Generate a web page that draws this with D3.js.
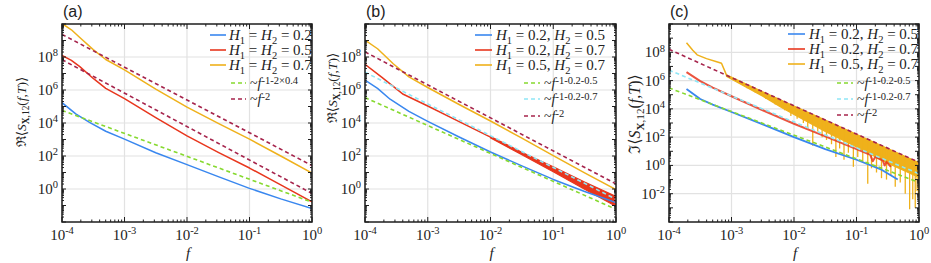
<!DOCTYPE html>
<html>
<head>
<meta charset="utf-8">
<script src="https://cdn.jsdelivr.net/npm/d3@7"></script>
<style>
body { margin: 0; background: #fff; }
svg { display: block; }
</style>
</head>
<body>
<svg width="931" height="263"></svg>
<script>
// all pairs are [log10 f, log10 value]

// (a) real part, H1 = H2
var aH02 = [[-4,5.23],[-3.78,4.55],[-3.56,4.04],[-3.3,3.5],[-3,3.02],[-2.5,2.2],[-2,1.48],[-1.5,0.75],[-1,0.04],[-0.5,-0.6],[0,-1.19]];
var aH05 = [[-4,8.1],[-3.85,7.8],[-3.72,7.43],[-3.5,6.7],[-3.3,6.1],[-3,5.48],[-2.5,4.33],[-2,3.22],[-1.5,2.22],[-1,1.27],[-0.5,0.25],[0,-0.78]];
var aH07 = [[-4,10.03],[-3.85,9.65],[-3.72,9.2],[-3.5,8.45],[-3.3,7.85],[-3,7.22],[-2.5,6.05],[-2,4.96],[-1.5,3.98],[-1,3.02],[-0.5,2.0],[0,0.96]];
var aFitH04 = [[-4,4.76],[0,-0.8]];
var aFit2hi = [[-4,9.37],[0,1.42]];
var aFit2lo = [[-4,7.84],[0,-0.27]];

// (b) real part, H1 != H2
var bH0205 = [[-4,6.6],[-3.8,6.1],[-3.6,5.44],[-3.3,4.7],[-3,4.1],[-2.5,3.15],[-2,2.24],[-1.5,1.4],[-1,0.58],[-0.5,-0.15],[0,-0.82]];
var bH0207 = [[-4,7.55],[-3.73,6.77],[-3.39,5.74],[-3,5.03],[-2.5,4.08],[-2,3.14],[-1.5,2.15],[-1,1.2],[-0.5,0.2],[0,-0.75]];
var bH0207tail = [[-2,3.1,3.18],[-1.5,2.07,2.23],[-1,1.05,1.35],[-0.5,-0.02,0.42],[0,-1.05,-0.45]]; // [f, low, high]
var bH0507 = [[-4,9.03],[-3.8,8.5],[-3.55,7.59],[-3.3,6.8],[-3,6.15],[-2.5,5.12],[-2,4.12],[-1.5,3.08],[-1,2.02],[-0.5,0.98],[0,-0.04]];
var bFit05 = [[-4,5.54],[0,-1.23]];
var bFit07 = [[-4,7.08],[0,-0.62]];
var bFit2 = [[-4,8.31],[0,0.31]];

// (c) imaginary part
var cH0205 = [[-3.72,5.41],[-3.5,4.7],[-3.3,4.3],[-3,3.78],[-2.5,2.9],[-2,2.0],[-1.5,1.15],[-1,0.4],[-0.6,-0.3],[-0.34,-1.0]];
var cH0207 = [[-3.72,6.6],[-3.5,5.96],[-3.3,5.5],[-3,4.89],[-2.5,3.9],[-2,2.95],[-1.5,2.05],[-1,1.15],[-0.78,0.75],[-0.74,0.3],[-0.7,0.6],[-0.58,0.35],[-0.55,0.0],[-0.52,0.25],[-0.45,-0.1]];
var cH0507 = [[-3.72,8.68],[-3.62,8.15],[-3.55,7.82],[-3.4,7.55],[-3.25,7.35],[-3.16,7.22],[-3.1,6.6],[-3.08,6.38]];
var cH0507band = [[-3.08,6.3,6.4],[-2.8,5.62,5.82],[-2.5,4.9,5.2],[-2.2,4.1,4.6],[-2,3.6,4.2],[-1.5,2.4,3.2],[-1,1.3,2.2],[-0.5,0.15,1.2],[0,-0.85,0.2]];
var cH0507dips = [[-2.75,5.45],[-2.62,5.15],[-2.45,4.7],[-2.3,4.3],[-2.15,3.9],[-2.05,3.5],[-1.95,3.3],[-1.85,3.0],[-1.78,2.6],[-1.7,1.4],[-1.62,2.4],[-1.55,2.0],[-1.48,1.8],[-1.4,1.5],[-1.33,0.6],[-1.27,1.2],[-1.2,0.4],[-1.13,0.9],[-1.05,-0.1],[-0.98,0.6],[-0.9,0.2],[-0.82,-1.3],[-0.76,-0.2],[-0.68,-0.5],[-0.6,-0.9],[-0.52,-1.0],[-0.45,-0.7],[-0.38,-1.5],[-0.3,-1.2],[-0.22,-2.0],[-0.15,-3.1],[-0.1,-2.4],[-0.06,-3.0],[-0.03,-1.8],[-0.01,-2.2]];
var cFit05 = [[-4,5.48],[0,-1.2]];
var cFit07 = [[-4,6.74],[0,-0.59]];
var cFit2 = [[-4,8.21],[0,0.22]];

// tick labels (decades)
var fDecades = [-4,-3,-2,-1,0];
var sDecadesAB = [0,2,4,6,8];
var sDecadesC = [-2,0,2,4,6,8];

// legend texts: [text, style]
var legA = [
  [['H','i'],['1','sub'],[' = '],['H','i'],['2','sub'],[' = 0.2']],
  [['H','i'],['1','sub'],[' = '],['H','i'],['2','sub'],[' = 0.5']],
  [['H','i'],['1','sub'],[' = '],['H','i'],['2','sub'],[' = 0.7']]
];
var legBC = [
  [['H','i'],['1','sub'],[' = 0.2, '],['H','i'],['2','sub'],[' = 0.5']],
  [['H','i'],['1','sub'],[' = 0.2, '],['H','i'],['2','sub'],[' = 0.7']],
  [['H','i'],['1','sub'],[' = 0.5, '],['H','i'],['2','sub'],[' = 0.7']]
];
var fitA = [
  [['~'],['f','i'],['-1-2\u00d70.4','sup']],
  [['~'],['f','i'],['-2','sup']]
];
var fitBC = [
  [['~'],['f','i'],['-1-0.2-0.5','sup']],
  [['~'],['f','i'],['-1-0.2-0.7','sup']],
  [['~'],['f','i'],['-2','sup']]
];
var titleRe = [['\u211c'],['\u27e8'],['S','i'],['X','b sub'],[',12','sub'],['('],['f','i'],[','],['T','i'],[')'],['\u27e9']];
var titleIm = [['\u2111'],['\u27e8'],['S','i'],['X','b sub'],[',12','sub'],['('],['f','i'],[','],['T','i'],[')'],['\u27e9']];

var blue = '#3987ef', red = '#e8361d', yellow = '#efb11b', green = '#86d92f', cyan = '#8fe6f6', wine = '#a6244c';
var serif = '"Liberation Serif", "Times New Roman", Times, "DejaVu Serif", serif';

var svg = d3.select('svg').attr('font-family', serif);

var label = function(g) {
  return g.append('text').style('font-family', serif).style('white-space', 'pre').attr('fill', '#222');
};

// writes text pieces with italic / bold / sub / sup
var rich = function(sel, parts, size, supSize, raise) {
  var shift = 0;
  parts.forEach(function(p) {
    var st = (p[1] || '').split(' ');
    var target = 0;
    if (st.indexOf('sub') >= 0) target = size * 0.24;
    if (st.indexOf('sup') >= 0) target = -size * (raise || 0.38);
    var ts = sel.append('tspan').text(p[0]).attr('dy', target - shift);
    shift = target;
    if (target !== 0) ts.attr('font-size', supSize || size * 0.7);
    if (st.indexOf('i') >= 0) ts.attr('font-style', 'italic');
    if (st.indexOf('b') >= 0) ts.attr('font-weight', 'bold');
  });
};

var drawPanel = function(p) {
  var x = d3.scaleLog().domain([1e-4, 1]).range([p.left, p.right]);
  var y = d3.scaleLog().domain([Math.pow(10, p.yLow), 1e10]).range([p.bottom, p.top]);
  var X = function(v) { return x(Math.pow(10, v)); };
  var Y = function(v) { return y(Math.pow(10, v)); };
  var g = svg.append('g');

  g.append('clipPath').attr('id', 'clip' + p.name)
    .append('rect').attr('x', p.left).attr('y', p.top)
    .attr('width', p.right - p.left).attr('height', p.bottom - p.top);

  //grid
  g.selectAll('line.gx').data(fDecades).enter().append('line')
    .attr('x1', d => X(d)).attr('x2', d => X(d))
    .attr('y1', p.top).attr('y2', p.bottom)
    .attr('stroke', '#e2e2e2').attr('stroke-width', 1.2);
  g.selectAll('line.gy').data(p.sDecades).enter().append('line')
    .attr('y1', d => Y(d)).attr('y2', d => Y(d))
    .attr('x1', p.left).attr('x2', p.right)
    .attr('stroke', '#e2e2e2').attr('stroke-width', 1.2);

  var plot = g.append('g').attr('clip-path', 'url(#clip' + p.name + ')');
  var line = d3.line().x(d => X(d[0])).y(d => Y(d[1]));
  var area = d3.area().x(d => X(d[0])).y0(d => Y(d[1])).y1(d => Y(d[2]));

  (p.bands || []).forEach(function(b) {
    plot.append('path').attr('d', area(b.data)).attr('fill', b.color).attr('stroke', b.color)
      .attr('stroke-width', 1.2);
  });
  (p.dips || []).forEach(function(s) {
    var top = d3.scaleLinear().domain(s.band.map(d => d[0])).range(s.band.map(d => d[2]));
    plot.selectAll(null).data(s.data).enter().append('line')
      .attr('x1', d => X(d[0])).attr('x2', d => X(d[0]))
      .attr('y1', d => Y(top(d[0]))).attr('y2', d => Y(d[1]))
      .attr('stroke', s.color).attr('stroke-width', 1.3);
  });
  p.solids.forEach(function(s) {
    plot.append('path').attr('d', line(s.data)).attr('fill', 'none')
      .attr('stroke', s.color).attr('stroke-width', s.width || 1.5)
      .attr('stroke-linejoin', 'round').attr('opacity', s.opacity || 1);
  });
  p.dashes.forEach(function(s) {
    plot.append('path').attr('d', line(s.data)).attr('fill', 'none')
      .attr('stroke', s.color).attr('stroke-width', 1.6)
      .attr('stroke-dasharray', '4,3');
  });

  //frame and ticks
  g.append('rect').attr('x', p.left).attr('y', p.top)
    .attr('width', p.right - p.left).attr('height', p.bottom - p.top)
    .attr('fill', 'none').attr('stroke', '#1e1e1e').attr('stroke-width', 1.5);
  var isMajor = t => Math.abs(Math.log10(t) - Math.round(Math.log10(t))) < 1e-6;
  x.ticks().forEach(function(t) {
    var len = isMajor(t) ? 5 : 2.5;
    g.append('line').attr('x1', x(t)).attr('x2', x(t)).attr('y1', p.bottom).attr('y2', p.bottom - len).attr('stroke', '#1e1e1e');
    g.append('line').attr('x1', x(t)).attr('x2', x(t)).attr('y1', p.top).attr('y2', p.top + len).attr('stroke', '#1e1e1e');
  });
  y.ticks(40).forEach(function(t) {
    var len = isMajor(t) ? 4 : 2;
    g.append('line').attr('y1', y(t)).attr('y2', y(t)).attr('x1', p.left).attr('x2', p.left + len).attr('stroke', '#1e1e1e');
    g.append('line').attr('y1', y(t)).attr('y2', y(t)).attr('x1', p.right).attr('x2', p.right - len).attr('stroke', '#1e1e1e');
  });

  //tick labels
  fDecades.forEach(function(d) {
    var t = label(g).attr('x', X(d)).attr('y', p.bottom + 18)
      .attr('text-anchor', 'middle').attr('font-size', 15);
    rich(t, [['10'], [String(d), 'sup']], 15, 10.5);
  });
  p.sDecades.forEach(function(d) {
    var t = label(g).attr('x', p.left - 4).attr('y', Y(d) + 5)
      .attr('text-anchor', 'end').attr('font-size', 15);
    rich(t, [['10'], [String(d), 'sup']], 15, 10.5);
  });

  //axis titles
  label(g).attr('x', (p.left + p.right) / 2 + 1).attr('y', 258)
    .attr('text-anchor', 'middle').attr('font-size', 15).attr('font-style', 'italic').text('f');
  var yt = label(g).attr('text-anchor', 'middle').attr('font-size', p.titleSize)
    .attr('transform', 'translate(' + p.titleX + ',' + p.titleY + ') rotate(-90)');
  rich(yt, p.title, p.titleSize);

  g.append('text').attr('x', p.left + 1).attr('y', 17)
    .style('font-family', '"Liberation Sans", Arial, sans-serif')
    .attr('font-size', 16).attr('fill', '#222').text('(' + p.name + ')');

  //legend
  var L = p.legend;
  L.items.forEach(function(it, i) {
    var yy = L.ys[i];
    g.append('line').attr('x1', L.x0).attr('x2', L.x1).attr('y1', yy).attr('y2', yy)
      .attr('stroke', p.solids[i].color).attr('stroke-width', 1.6);
    var t = label(g).attr('x', L.tx).attr('y', yy + 5).attr('font-size', 15);
    rich(t, it, 15, 10.5);
  });
  L.fits.forEach(function(it, i) {
    var yy = L.dys[i];
    g.append('line').attr('x1', L.dx0).attr('x2', L.dx1).attr('y1', yy).attr('y2', yy)
      .attr('stroke', L.fitColors[i]).attr('stroke-width', 1.6).attr('stroke-dasharray', '4,3');
    var t = label(g).attr('x', L.dtx).attr('y', yy + 5).attr('font-size', 14);
    rich(t, it, 14, 10.5, 0.32);
  });
};

drawPanel({
  name: 'a', left: 62, right: 312, top: 24, bottom: 222, yLow: -2, sDecades: sDecadesAB,
  title: titleRe, titleX: 26, titleY: 112, titleSize: 13.5,
  solids: [{data: aH02, color: blue}, {data: aH05, color: red}, {data: aH07, color: yellow}],
  dashes: [{data: aFitH04, color: green}, {data: aFit2hi, color: wine}, {data: aFit2lo, color: wine}],
  legend: {items: legA, ys: [35, 50, 65], x0: 210, x1: 226, tx: 229,
    fits: fitA, fitColors: [green, wine], dys: [83, 99], dx0: 231, dx1: 246, dtx: 250}
});

drawPanel({
  name: 'b', left: 365, right: 616, top: 24, bottom: 222, yLow: -2, sDecades: sDecadesAB,
  title: titleRe, titleX: 337, titleY: 88, titleSize: 13.5,
  bands: [{data: bH0207tail, color: red}],
  solids: [{data: bH0205, color: blue}, {data: bH0207, color: red}, {data: bH0507, color: yellow}],
  dashes: [{data: bFit05, color: green}, {data: bFit07, color: cyan}, {data: bFit2, color: wine}],
  legend: {items: legBC, ys: [35, 50, 65], x0: 475, x1: 492, tx: 496,
    fits: fitBC, fitColors: [green, cyan, wine], dys: [83, 99, 116], dx0: 524, dx1: 540, dtx: 544}
});

drawPanel({
  name: 'c', left: 669, right: 919, top: 24, bottom: 222, yLow: -4, sDecades: sDecadesC,
  title: titleIm, titleX: 640, titleY: 114, titleSize: 16,
  bands: [{data: cH0507band, color: yellow}],
  dips: [{data: cH0507dips, band: cH0507band, color: yellow}],
  solids: [{data: cH0205, color: blue, width: 1.8}, {data: cH0207, color: red, width: 2, opacity: 0.85}, {data: cH0507, color: yellow}],
  dashes: [{data: cFit05, color: green}, {data: cFit07, color: cyan}, {data: cFit2, color: wine}],
  legend: {items: legBC, ys: [34, 49, 64], x0: 788, x1: 805, tx: 809,
    fits: fitBC, fitColors: [green, cyan, wine], dys: [83, 99, 115], dx0: 837, dx1: 853, dtx: 857}
});
</script>
</body>
</html>
